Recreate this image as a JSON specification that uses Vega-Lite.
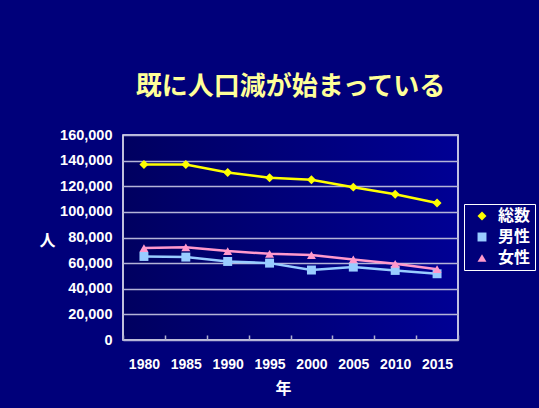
{
  "$schema": "https://vega.github.io/schema/vega-lite/v6.json",
  "width": 335,
  "height": 205,
  "autosize": {"type": "none"},
  "padding": {"left": 123, "top": 135, "right": 81, "bottom": 68},
  "background": "#00007A",
  "title": {
    "text": "既に人口減が始まっている",
    "font": "Noto Sans CJK JP",
    "fontWeight": "bold",
    "fontSize": 26,
    "color": "#FFFF99",
    "anchor": "middle",
    "offset": 27
  },
  "config": {
    "view": {
      "stroke": "#FFFFFF",
      "strokeWidth": 1.5,
      "fill": {
        "gradient": "linear",
        "x1": 0, "y1": 0, "x2": 1, "y2": 0,
        "stops": [{"offset": 0, "color": "#000060"}, {"offset": 1, "color": "#000094"}]
      }
    },
    "font": "Liberation Sans"
  },
  "data": {
    "values": [
      {"year": "1980", "series": "総数", "value": 137000},
      {"year": "1985", "series": "総数", "value": 137000},
      {"year": "1990", "series": "総数", "value": 130800},
      {"year": "1995", "series": "総数", "value": 126600},
      {"year": "2000", "series": "総数", "value": 125000},
      {"year": "2005", "series": "総数", "value": 119300},
      {"year": "2010", "series": "総数", "value": 113800},
      {"year": "2015", "series": "総数", "value": 107000},
      {"year": "1980", "series": "男性", "value": 65200},
      {"year": "1985", "series": "男性", "value": 64700},
      {"year": "1990", "series": "男性", "value": 61300},
      {"year": "1995", "series": "男性", "value": 60000},
      {"year": "2000", "series": "男性", "value": 54600},
      {"year": "2005", "series": "男性", "value": 56900},
      {"year": "2010", "series": "男性", "value": 54300},
      {"year": "2015", "series": "男性", "value": 51700},
      {"year": "1980", "series": "女性", "value": 71800},
      {"year": "1985", "series": "女性", "value": 72300},
      {"year": "1990", "series": "女性", "value": 69400},
      {"year": "1995", "series": "女性", "value": 67300},
      {"year": "2000", "series": "女性", "value": 66300},
      {"year": "2005", "series": "女性", "value": 62900},
      {"year": "2010", "series": "女性", "value": 59500},
      {"year": "2015", "series": "女性", "value": 55300}
    ]
  },
  "encoding": {
    "x": {
      "field": "year",
      "type": "ordinal",
      "scale": {"type": "band", "paddingInner": 0, "paddingOuter": 0},
      "axis": {
        "title": "年",
        "titleFont": "Noto Sans CJK JP",
        "titleFontSize": 16,
        "titleFontWeight": "bold",
        "titleColor": "#FFFFFF",
        "titleX": 160,
        "titleY": 48,
        "titleAlign": "center",
        "titleBaseline": "middle",
        "labelAngle": 0,
        "labelFont": "Liberation Sans",
        "labelFontSize": 14,
        "labelFontWeight": "bold",
        "labelColor": "#FFFFFF",
        "labelPadding": 22,
        "domain": false,
        "tickBand": "extent",
        "tickSize": -5,
        "tickColor": "#B0B0D0",
        "tickWidth": 1.5,
        "grid": false
      }
    },
    "y": {
      "field": "value",
      "type": "quantitative",
      "scale": {"domain": [0, 160000]},
      "axis": {
        "values": [0, 20000, 40000, 60000, 80000, 100000, 120000, 140000, 160000],
        "format": ",.0f",
        "title": "人",
        "titleAngle": 0,
        "titleFont": "Noto Sans CJK JP",
        "titleFontSize": 16,
        "titleFontWeight": "bold",
        "titleColor": "#FFFFFF",
        "titleX": -76,
        "titleY": 105,
        "titleAlign": "center",
        "titleBaseline": "middle",
        "labelFont": "Liberation Sans",
        "labelFontSize": 14.5,
        "labelFontWeight": "bold",
        "labelColor": "#FFFFFF",
        "labelPadding": 11,
        "domain": false,
        "ticks": false,
        "grid": true,
        "gridColor": "#B4B4D8",
        "gridWidth": 1.5
      }
    },
    "color": {
      "field": "series",
      "type": "nominal",
      "scale": {"domain": ["総数", "男性", "女性"], "range": ["#FFFF00", "#99CCFF", "#FF99CC"]},
      "legend": {
        "orient": "none",
        "legendX": 341,
        "legendY": 69,
        "title": null,
        "strokeColor": "#FFFFFF",
        "padding": 4,
        "labelFont": "Noto Sans CJK JP",
        "labelFontSize": 16,
        "labelFontWeight": "bold",
        "labelColor": "#FFFFFF",
        "labelOffset": 8,
        "symbolSize": 80,
        "symbolOffset": 6,
        "symbolStrokeWidth": 0,
        "rowPadding": 5
      }
    },
    "shape": {
      "field": "series",
      "type": "nominal",
      "scale": {"domain": ["総数", "男性", "女性"], "range": ["diamond", "square", "triangle-up"]},
      "legend": null
    }
  },
  "layer": [
    {"mark": {"type": "line", "strokeWidth": 2.5}},
    {"mark": {"type": "point", "filled": true, "opacity": 1, "size": 80}}
  ]
}
